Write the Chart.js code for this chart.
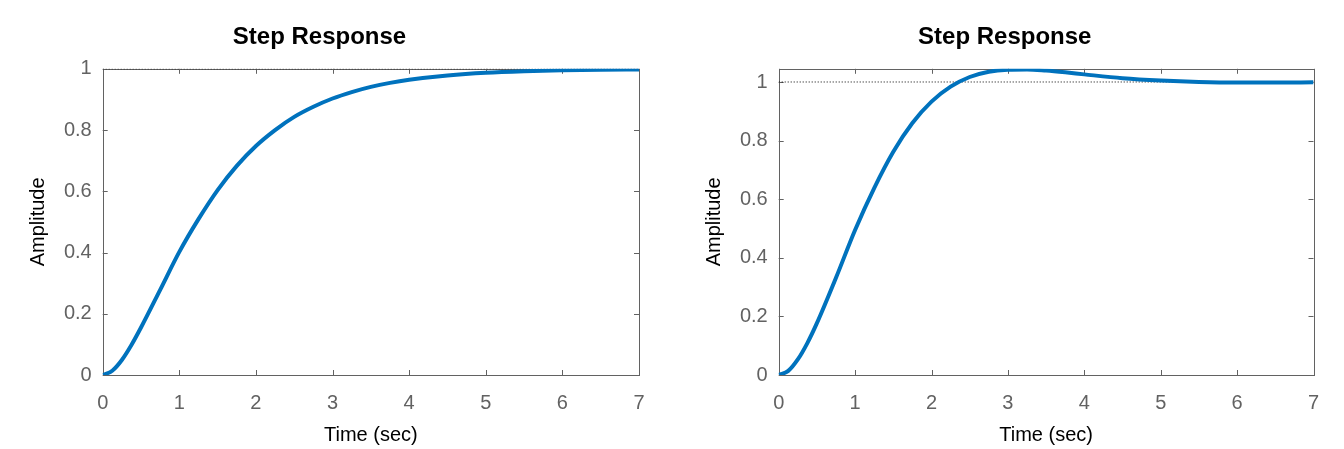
<!DOCTYPE html>
<html>
<head>
<meta charset="utf-8">
<script src="https://cdn.jsdelivr.net/npm/chart.js@4/dist/chart.umd.min.js"></script>
<style>
  html, body { margin: 0; padding: 0; background: #fff; overflow: hidden; }
  #left { position: absolute; left: 0; top: 0; }
  #right { position: absolute; left: 696px; top: 0; }
</style>
</head>
<body>
<canvas id="left" width="690" height="449"></canvas>
<canvas id="right" width="648" height="449"></canvas>
<script>
// values
const timeSec = [0, 0.125, 0.25, 0.375, 0.5, 0.75, 1, 1.25, 1.5, 1.75, 2, 2.25, 2.5, 2.75, 3, 3.25, 3.5, 3.75, 4, 4.5, 5, 5.5, 6, 6.5, 7];
const ampLeft = [0, 0.014, 0.049, 0.098, 0.155, 0.278, 0.402, 0.509, 0.604, 0.683, 0.748, 0.800, 0.843, 0.876, 0.903, 0.924, 0.941, 0.954, 0.964, 0.978, 0.987, 0.992, 0.995, 0.997, 0.998];
const ampRight = [0, 0.014, 0.053, 0.109, 0.177, 0.332, 0.495, 0.638, 0.762, 0.860, 0.933, 0.984, 1.017, 1.035, 1.042, 1.043, 1.039, 1.033, 1.026, 1.013, 1.005, 1.000, 0.998, 0.998, 0.999];
const xTicks = [0, 1, 2, 3, 4, 5, 6, 7];
const yTicks = [0, 0.2, 0.4, 0.6, 0.8, 1];
const steadyState = 1;

const FONT = "'Liberation Sans', Arial, Helvetica, sans-serif";

// matlab style box with inward ticks on all four sides
const matlabBox = {
  id: "matlabBox",
  beforeDatasetsDraw(chart) {
    const { ctx, chartArea: a, scales: { x, y } } = chart;
    ctx.save();
    ctx.strokeStyle = "#626262";
    ctx.lineWidth = 1;
    ctx.beginPath();
    x.ticks.forEach((t) => {
      const px = Math.round(x.getPixelForValue(t.value)) + 0.5;
      ctx.moveTo(px, a.bottom);
      ctx.lineTo(px, a.bottom - 5);
      ctx.moveTo(px, a.top);
      ctx.lineTo(px, a.top + 5);
    });
    y.ticks.forEach((t) => {
      const py = Math.round(y.getPixelForValue(t.value)) + 0.5;
      ctx.moveTo(a.left, py);
      ctx.lineTo(a.left + 5, py);
      ctx.moveTo(a.right, py);
      ctx.lineTo(a.right - 5, py);
    });
    ctx.stroke();
    ctx.strokeRect(Math.round(a.left) + 0.5, Math.round(a.top) + 0.5,
      Math.round(a.right - a.left), Math.round(a.bottom - a.top));
    ctx.restore();
  },
};

function makeChart(id, amps, yMax, yWidth, padRight, yTitlePad) {
  return new Chart(document.getElementById(id), {
    type: "line",
    data: {
      datasets: [
        {
          data: timeSec.map((t, i) => ({ x: t, y: amps[i] })),
          borderColor: "#0072BD",
          borderWidth: 4,
          cubicInterpolationMode: "monotone",
        },
        {
          data: [{ x: xTicks[0], y: steadyState }, { x: xTicks[xTicks.length - 1], y: steadyState }],
          borderColor: "#000",
          borderWidth: 1,
          borderDash: [1, 2],
        },
      ],
    },
    options: {
      responsive: false,
      animation: false,
      devicePixelRatio: 1,
      layout: { padding: { left: 0, right: padRight, top: 0, bottom: 0 } },
      plugins: {
        legend: { display: false },
        tooltip: { enabled: false },
        title: {
          display: true,
          text: "Step Response",
          color: "#000",
          font: { family: FONT, size: 24, weight: "bold" },
          padding: { top: 23, bottom: 17 },
        },
      },
      elements: { point: { radius: 0 } },
      scales: {
        x: {
          type: "linear",
          min: 0,
          max: 7,
          afterBuildTicks: (axis) => { axis.ticks = xTicks.map((value) => ({ value })); },
          afterFit: (axis) => { axis.height = 74; },
          grid: { display: false, drawTicks: false },
          border: { display: false },
          ticks: { color: "#626262", font: { family: FONT, size: 20 }, padding: 16, maxRotation: 0 },
          title: {
            display: true,
            text: "Time (sec)",
            color: "#000",
            font: { family: FONT, size: 20 },
            padding: { top: 0, bottom: 2 },
          },
        },
        y: {
          min: 0,
          max: yMax,
          afterBuildTicks: (axis) => { axis.ticks = yTicks.map((value) => ({ value })); },
          afterFit: (axis) => { axis.width = yWidth; },
          grid: { display: false, drawTicks: false },
          border: { display: false },
          ticks: {
            color: "#626262",
            font: { family: FONT, size: 20 },
            padding: 11,
            callback: (value) => String(value),
          },
          title: {
            display: true,
            text: "Amplitude",
            color: "#000",
            font: { family: FONT, size: 20 },
            padding: { top: yTitlePad, bottom: 0 },
          },
        },
      },
    },
    plugins: [matlabBox],
  });
}

makeChart("left", ampLeft, 1, 102.7, 51, 26);
makeChart("right", ampRight, 1.045, 82.7, 30.5, 6);
</script>
</body>
</html>
